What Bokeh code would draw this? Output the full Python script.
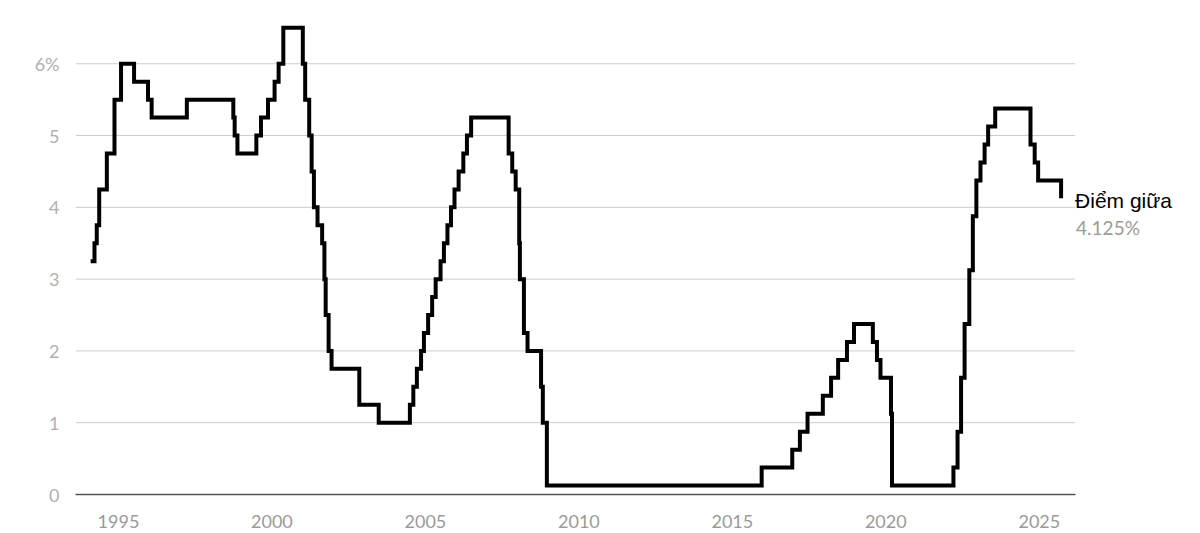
import pandas as pd
from bokeh.plotting import figure
from bokeh.models import Range1d, FixedTicker, CustomJSTickFormatter, DatetimeTickFormatter, Label
from bokeh.embed import file_html
from bokeh.resources import INLINE

# Fed funds target (midpoint of range after 2008)
change_dates = [
    "1994-02-04", "1994-03-22", "1994-04-18", "1994-05-17", "1994-08-16", "1994-11-15",
    "1995-02-01", "1995-07-06", "1995-12-19", "1996-01-31", "1997-03-25", "1998-09-29",
    "1998-10-15", "1998-11-17", "1999-06-30", "1999-08-24", "1999-11-16", "2000-02-02",
    "2000-03-21", "2000-05-16", "2001-01-03", "2001-01-31", "2001-03-20", "2001-04-18",
    "2001-05-15", "2001-06-27", "2001-08-21", "2001-09-17", "2001-10-02", "2001-11-06",
    "2001-12-11", "2002-11-06", "2003-06-25", "2004-06-30", "2004-08-10", "2004-09-21",
    "2004-11-10", "2004-12-14", "2005-02-02", "2005-03-22", "2005-05-03", "2005-06-30",
    "2005-08-09", "2005-09-20", "2005-11-01", "2005-12-13", "2006-01-31", "2006-03-28",
    "2006-05-10", "2006-06-29", "2007-09-18", "2007-10-31", "2007-12-11", "2008-01-22",
    "2008-01-30", "2008-03-18", "2008-04-30", "2008-10-08", "2008-10-29", "2008-12-16",
    "2015-12-16", "2016-12-14", "2017-03-15", "2017-06-14", "2017-12-13", "2018-03-21",
    "2018-06-13", "2018-09-26", "2018-12-19", "2019-07-31", "2019-09-18", "2019-10-30",
    "2020-03-03", "2020-03-15", "2022-03-16", "2022-05-04", "2022-06-15", "2022-07-27",
    "2022-09-21", "2022-11-02", "2022-12-14", "2023-02-01", "2023-03-22", "2023-05-03",
    "2023-07-26", "2024-09-18", "2024-11-07", "2024-12-18", "2025-09-17",
]
rates = [
    3.25, 3.50, 3.75, 4.25, 4.75, 5.50,
    6.00, 5.75, 5.50, 5.25, 5.50, 5.25,
    5.00, 4.75, 5.00, 5.25, 5.50, 5.75,
    6.00, 6.50, 6.00, 5.50, 5.00, 4.50,
    4.00, 3.75, 3.50, 3.00, 2.50, 2.00,
    1.75, 1.25, 1.00, 1.25, 1.50, 1.75,
    2.00, 2.25, 2.50, 2.75, 3.00, 3.25,
    3.50, 3.75, 4.00, 4.25, 4.50, 4.75,
    5.00, 5.25, 4.75, 4.50, 4.25, 3.50,
    3.00, 2.25, 2.00, 1.50, 1.00, 0.125,
    0.375, 0.625, 0.875, 1.125, 1.375, 1.625,
    1.875, 2.125, 2.375, 2.125, 1.875, 1.625,
    1.125, 0.125, 0.375, 0.875, 1.625, 2.375,
    3.125, 3.875, 4.375, 4.625, 4.875, 5.125,
    5.375, 4.875, 4.625, 4.375, 4.125,
]
year_ticks = [1995, 2000, 2005, 2010, 2015, 2020, 2025]
y_ticks = [0, 1, 2, 3, 4, 5, 6]
label_title = "Điểm giữa"
label_value = "4.125%"

dates = pd.to_datetime(change_dates)

axis_start = pd.Timestamp("1993-08-08")
axis_end = pd.Timestamp("2026-03-03")
view_end = pd.Timestamp("2029-12-05")   # room for the end label inside the frame

p = figure(
    width=1192, height=533,
    x_axis_type="datetime",
    x_range=Range1d(axis_start, view_end),
    y_range=Range1d(0, 6.7),
    output_backend="svg", toolbar_location=None,
    min_border_left=75, min_border_right=2, min_border_top=13, min_border_bottom=39,
)
p.outline_line_color = None
p.background_fill_color = "white"
p.border_fill_color = "white"

# horizontal grid lines limited to the axis extent
p.xgrid.grid_line_color = None
p.ygrid.grid_line_color = None
n = len(y_ticks)
p.segment(x0=[axis_start] * n, y0=y_ticks, x1=[axis_end] * n, y1=y_ticks,
          line_color="#cccccc", line_width=1)

p.step(dates, rates, mode="after", line_width=4, line_color="black",
       line_join="miter", line_cap="butt")

# x axis
xa = p.xaxis[0]
xa.ticker = FixedTicker(ticks=[pd.Timestamp(f"{y}-01-01").value / 1e6 for y in year_ticks])
xa.formatter = DatetimeTickFormatter(years="%Y", months="%Y", days="%Y")
xa.bounds = (axis_start.value / 1e6, axis_end.value / 1e6)
xa.axis_line_color = "#555555"
xa.axis_line_width = 1.5
xa.major_tick_line_color = None
xa.minor_tick_line_color = None
xa.major_label_standoff = 14
xa.major_label_text_font = "Lato"
xa.major_label_text_font_size = "18px"
xa.major_label_text_color = "#9a9a9a"

# y axis
ya = p.yaxis[0]
ya.ticker = FixedTicker(ticks=y_ticks)
ya.formatter = CustomJSTickFormatter(code="return tick == 6 ? tick + '%' : tick.toString();")
ya.axis_line_color = None
ya.major_tick_line_color = None
ya.minor_tick_line_color = None
ya.major_label_standoff = 10
ya.major_label_text_font = "Lato"
ya.major_label_text_font_size = "18px"
ya.major_label_text_color = "#b0b0b0"

last_x = dates[-1]
last_y = rates[-1]
p.add_layout(Label(x=last_x, y=last_y, text=label_title, x_offset=14, y_offset=-2,
                   text_baseline="middle", text_align="left",
                   text_font="Liberation Sans", text_font_size="21px", text_color="black"))
p.add_layout(Label(x=last_x, y=last_y, text=label_value, x_offset=15, y_offset=-29,
                   text_baseline="middle", text_align="left",
                   text_font="Lato", text_font_size="19px", text_color="#9a9a9a"))

open("out.html", "w").write(file_html(p, INLINE))
